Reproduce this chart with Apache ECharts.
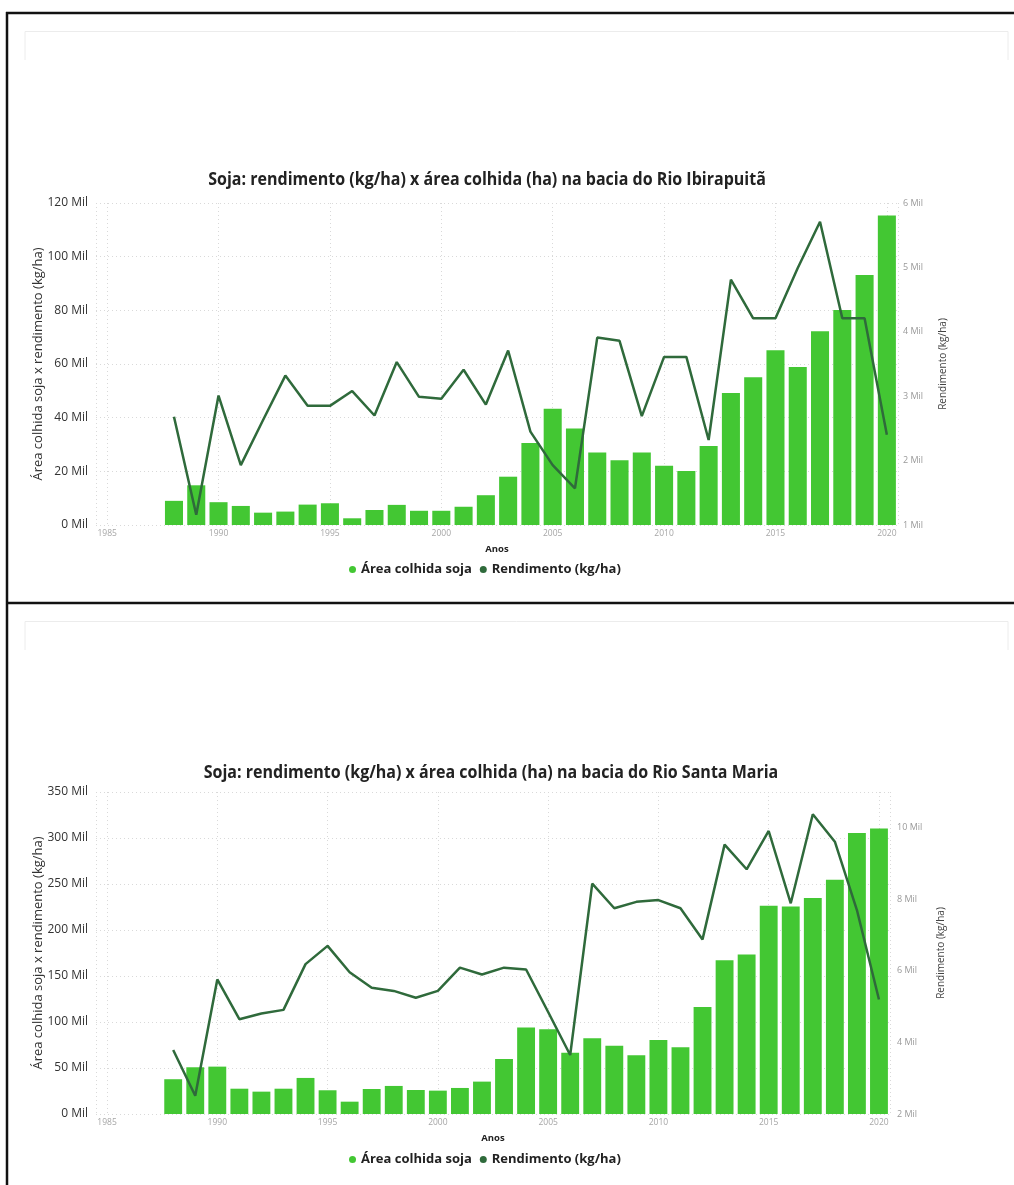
<!DOCTYPE html>
<html>
<head>
<meta charset="utf-8">
<script src="https://cdn.jsdelivr.net/npm/echarts@6/dist/echarts.min.js"></script>
<style>html,body{margin:0;padding:0;background:#fff;}#c{width:1014px;height:1185px;}</style>
</head>
<body>
<div id="c"></div>
<script>
// ---- data ----
const years = [1988,1989,1990,1991,1992,1993,1994,1995,1996,1997,1998,1999,2000,2001,2002,2003,2004,2005,2006,2007,2008,2009,2010,2011,2012,2013,2014,2015,2016,2017,2018,2019,2020];
// Rio Ibirapuitã
const area1 = [9000,14800,8500,7100,4600,5000,7600,8100,2500,5600,7500,5300,5300,6800,11100,18000,30600,43300,36000,27000,24100,27000,22100,20100,29400,49200,55100,65100,58900,72200,80100,93200,115300];
const yield1 = [2680,1160,3010,1930,2630,3320,2850,2850,3080,2700,3530,2990,2960,3410,2870,3710,2450,1930,1570,3910,3860,2690,3610,3610,2320,4810,4210,4210,4990,5710,4210,4210,2400];
// Rio Santa Maria
const area2 = [37800,50800,51500,27500,24300,27500,39200,25800,13400,27200,30500,26100,25400,28300,35200,59800,93900,92100,66700,82400,74300,63900,80500,72600,116400,167200,173400,226300,225600,234700,254600,305400,310400];
const yield2 = [3790,2510,5760,4650,4810,4910,6190,6700,5960,5530,5440,5250,5440,6090,5900,6090,6040,4850,3650,8440,7750,7930,7980,7750,6880,9530,8840,9910,7890,10380,9610,7700,5200];

const titles = [
  'Soja: rendimento (kg/ha) x área colhida (ha) na bacia do Rio Ibirapuitã',
  'Soja: rendimento (kg/ha) x área colhida (ha) na bacia do Rio Santa Maria'
];
const seriesNames = ['Área colhida soja', 'Rendimento (kg/ha)'];
const xName = 'Anos';
const leftAxisName = 'Área colhida soja x rendimento (kg/ha)';
const rightAxisName = 'Rendimento (kg/ha)';

// ---- styles ----
const BAR = '#43c733';
const LINE = '#2f6a3b';
const FONT = "'Open Sans', 'Noto Sans', sans-serif";
const TFONT = "'Open Sans', 'Noto Sans', sans-serif";
const milFmt = v => (v / 1000) + ' Mil';

const chart = echarts.init(document.getElementById('c'), null, {renderer: 'canvas'});

function xAxis(gi) {
  return {
    type: 'value', gridIndex: gi, min: 1984.5, max: 2020.5, splitNumber: 7,
    axisLine: {show: false}, axisTick: {show: false},
    axisLabel: {formatter: v => (v % 5 === 0 ? String(v) : ''), color: '#a6a6a6', fontSize: 8.5, fontFamily: FONT, margin: 4, showMinLabel: false, showMaxLabel: false},
    splitLine: {show: true, lineStyle: {type: [1, 3], color: '#d9d9d9', width: 1}},
    name: xName, nameLocation: 'middle', nameGap: 19,
    nameTextStyle: {fontWeight: 'bold', fontSize: 9.5, color: '#222', fontFamily: FONT}
  };
}
function leftAxis(gi, max, interval) {
  return {
    type: 'value', gridIndex: gi, position: 'left', min: 0, max: max, interval: interval,
    axisLine: {show: false}, axisTick: {show: false},
    axisLabel: {formatter: milFmt, color: '#333', fontSize: 12, fontFamily: FONT, margin: 8},
    splitLine: {show: true, lineStyle: {type: [1, 3], color: '#d9d9d9', width: 1}},
    name: leftAxisName, nameLocation: 'middle', nameGap: 51, nameRotate: 90, nameMoveOverlap: false,
    nameTextStyle: {fontSize: 13, color: '#333', fontFamily: FONT}
  };
}
function rightAxis(gi, min, max, interval, margin, gap) {
  return {
    type: 'value', gridIndex: gi, position: 'right', min: min, max: max, interval: interval,
    axisLine: {show: false}, axisTick: {show: false},
    axisLabel: {formatter: milFmt, color: '#9a9a9a', fontSize: 9, fontFamily: FONT, margin: margin, showMaxLabel: max % interval === 0},
    splitLine: {show: false},
    name: rightAxisName, nameLocation: 'middle', nameGap: gap, nameRotate: 90,
    nameTextStyle: {fontSize: 10, color: '#444', fontFamily: FONT}
  };
}
function legend(top) {
  return {
    top: top, left: 349, padding: 0, icon: 'circle', itemWidth: 7, itemHeight: 7, itemGap: 8,
    data: seriesNames, selectedMode: false,
    textStyle: {fontWeight: 'bold', fontSize: 13, color: '#222', fontFamily: FONT}
  };
}
function pairs(vals) { return years.map((y, i) => [y, vals[i]]); }
function titleText(text, x, y) {
  return {type: 'text', x: x, y: y, scaleX: 0.89, silent: true,
    style: {text: text, align: 'center', verticalAlign: 'middle', fontSize: 18, fontWeight: 'bold', fontFamily: TFONT, fill: '#222'}};
}

const borderColor = '#111';
const option = {
  animation: false,
  backgroundColor: '#fff',
  grid: [
    {left: 96, right: 116, top: 203, height: 322},
    {left: 96, right: 124, top: 792, height: 322}
  ],
  xAxis: [xAxis(0), xAxis(1)],
  yAxis: [
    leftAxis(0, 120000, 20000),
    rightAxis(0, 1000, 6000, 1000, 5, 40),
    leftAxis(1, 350000, 50000),
    rightAxis(1, 2000, 11000, 2000, 7, 46)
  ],
  legend: [legend(563), legend(1153)],
  series: [
    {name: seriesNames[0], type: 'bar', xAxisIndex: 0, yAxisIndex: 0, data: pairs(area1), barWidth: '81%', itemStyle: {color: BAR}},
    {name: seriesNames[1], type: 'line', xAxisIndex: 0, yAxisIndex: 1, data: pairs(yield1), showSymbol: false, symbol: 'none', lineStyle: {color: LINE, width: 2.5}, itemStyle: {color: LINE}, z: 5},
    {name: seriesNames[0], type: 'bar', xAxisIndex: 1, yAxisIndex: 2, data: pairs(area2), barWidth: '81%', itemStyle: {color: BAR}},
    {name: seriesNames[1], type: 'line', xAxisIndex: 1, yAxisIndex: 3, data: pairs(yield2), showSymbol: false, symbol: 'none', lineStyle: {color: LINE, width: 2.5}, itemStyle: {color: LINE}, z: 5}
  ],
  graphic: [
    {type: 'line', shape: {x1: 7, y1: 12, x2: 7, y2: 1185}, style: {stroke: borderColor, lineWidth: 2.5}, silent: true},
    {type: 'line', shape: {x1: 6, y1: 13, x2: 1014, y2: 13}, style: {stroke: borderColor, lineWidth: 2.5}, silent: true},
    {type: 'line', shape: {x1: 6, y1: 603, x2: 1014, y2: 603}, style: {stroke: borderColor, lineWidth: 2.5}, silent: true},
    {type: 'polyline', shape: {points: [[25, 60], [25, 31.5], [1008, 31.5], [1008, 60]]}, style: {stroke: '#ececec', lineWidth: 1, fill: null}, silent: true},
    {type: 'polyline', shape: {points: [[25, 650], [25, 621.5], [1008, 621.5], [1008, 650]]}, style: {stroke: '#ececec', lineWidth: 1, fill: null}, silent: true},
    titleText(titles[0], 487, 180),
    titleText(titles[1], 491, 773)
  ]
};
chart.setOption(option);
</script>
</body>
</html>
